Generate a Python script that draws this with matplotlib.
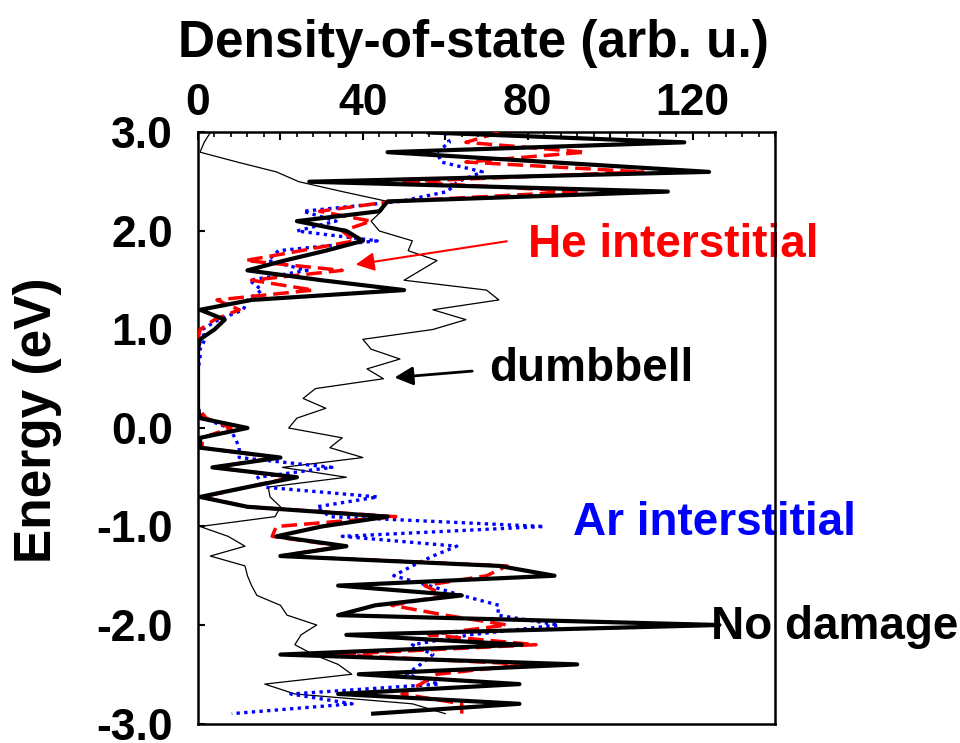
import matplotlib
matplotlib.use("Agg")
import matplotlib.pyplot as plt
from matplotlib.ticker import FixedLocator, FuncFormatter, MultipleLocator

plt.rcParams["font.family"] = ["Liberation Sans", "DejaVu Sans"]
plt.rcParams["font.weight"] = "bold"
plt.rcParams["axes.unicode_minus"] = False

# Energy grid (eV)
energy = [3.0, 2.9, 2.8, 2.7, 2.6, 2.5, 2.4, 2.3, 2.2, 2.1,
          2.0, 1.9, 1.8, 1.7, 1.6, 1.5, 1.4, 1.3, 1.2, 1.1,
          1.0, 0.9, 0.8, 0.7, 0.6, 0.5, 0.4, 0.3, 0.2, 0.1,
          0.0, -0.1, -0.2, -0.3, -0.4, -0.5, -0.6, -0.7, -0.8, -0.9,
          -1.0, -1.1, -1.2, -1.3, -1.4, -1.5, -1.6, -1.7, -1.8, -1.9,
          -2.0, -2.1, -2.2, -2.3, -2.4, -2.5, -2.6, -2.7, -2.8, -2.9]

# Density of states (arb. u.) for each configuration
dos_no_damage = [56, 118, 46, 85, 124, 27, 114, 46, 44, 24,
                 36, 40, 31, 21, 12, 30, 50, 13, 0.5, 6.5,
                 4, 0.5, 0, 0, 0, 0, 0, 0, 0, 0.5,
                 12, 0.5, 0.5, 20, 3.5, 24, 12, 0.5, 12, 46,
                 30, 19, 36, 20, 73, 86.5, 34, 64, 43, 34,
                 126.5, 36, 78.5, 20, 92, 39, 78, 34, 78, 42.5]

dos_he = [73, 65, 94, 65, 108, 49, 93, 47, 29.5, 42,
          35, 38, 25, 11.5, 35, 13, 28, 4.6, 10, 4,
          0.5, 0, 0, 0, 0, 0, 0, 0, 0, 2,
          8, 1, 1, 19, 4, 23, 12, 1, 12, 48,
          19, 18, 35, 20, 75, 70, 55, 60, 47, 60,
          75, 56, 82, 33, 80, 58, 54, 49.5, 64, 64]

dos_ar = [60, 61, 58, 59, 69, 63, 60.5, 49, 25.5, 33.5,
          24, 43.5, 19.5, 17, 26.5, 12.5, 15.5, 12, 11, 5,
          1, 1.7, 0.5, 0.5, 0, 0, 0, 0, 0, 1.2,
          7.5, 9, 10, 10, 32.5, 14.5, 16, 43.6, 28.8, 32,
          84, 35, 62.8, 57, 52, 47.5, 56, 64, 73, 72.7,
          87.5, 66, 52, 57, 54, 50.6, 58.5, 22.5, 37.4, 8.2]

dos_dumbbell = [3, 1.5, 0.5, 9.5, 19, 24.5, 35, 46, 44.5, 42,
                44, 52, 51, 58, 54, 50, 70, 73, 57, 65,
                57, 40, 42, 49, 41, 45, 28.5, 25.5, 31, 24,
                22, 35, 32, 40, 20.5, 36, 17, 17.5, 20, 18.7,
                0.5, 7.3, 11.4, 3, 11.4, 12, 13, 14.3, 20, 21.6,
                28.8, 25, 23.5, 28, 34, 37.3, 16.2, 23.5, 52, 60]

fig = plt.figure(figsize=(9.6, 7.43), dpi=100)
ax = fig.add_axes([0.20625, 0.02624, 0.60104, 0.79546])

ax.plot(dos_dumbbell, energy, color="black", lw=0.9, zorder=2)
ax.plot(dos_ar, energy, color="blue", lw=2.4, linestyle=(0, (1, 1.3)), zorder=3)
ax.plot(dos_he, energy, color="red", lw=2.5, linestyle=(0, (4.5, 2)), zorder=4)
ax.plot(dos_no_damage, energy, color="black", lw=3.0, zorder=5)

ax.set_xlim(0, 140)
ax.set_ylim(-3.0, 3.0)

# x axis along the top, inward ticks
ax.xaxis.tick_top()
ax.xaxis.set_label_position("top")
ax.xaxis.set_major_locator(FixedLocator([0, 20, 40, 60, 80, 100, 120]))
ax.xaxis.set_major_formatter(FuncFormatter(lambda v, p: f"{v:.0f}" if round(v) % 40 == 0 else ""))
ax.xaxis.set_minor_locator(MultipleLocator(4))
ax.yaxis.set_major_locator(MultipleLocator(1.0))
ax.yaxis.set_major_formatter(FuncFormatter(lambda v, p: f"{v:.1f}"))

ax.tick_params(axis="x", which="major", direction="in", length=6, width=1.5,
               top=True, bottom=False, labelsize=32, pad=6)
ax.tick_params(axis="x", which="minor", direction="in", length=3.5, width=1.2,
               top=True, bottom=False)
ax.tick_params(axis="y", which="major", direction="in", length=5, width=1.5,
               left=True, right=False, labelsize=32, pad=18)
for lab in ax.get_xticklabels() + ax.get_yticklabels():
    lab.set_fontweight("bold")

for s in ax.spines.values():
    s.set_linewidth(1.8)

ax.set_xlabel("Density-of-state (arb. u.)", fontsize=37, fontweight="bold")
ax.xaxis.set_label_coords(0.478, 1.128)
ax.set_ylabel("Energy (eV)", fontsize=37, fontweight="bold")
ax.yaxis.set_label_coords(-0.236, 0.5135)

# labels and pointers
ax.text(80, 1.736, "He interstitial", color="red", fontsize=33, fontweight="bold",
        ha="left", va="baseline", clip_on=False, zorder=1)
ax.annotate("", xy=(37.6, 1.655), xytext=(75.6, 1.9),
            arrowprops=dict(arrowstyle="-|>", color="red", lw=1.5, mutation_scale=28),
            zorder=6)
ax.text(70.6, 0.48, "dumbbell", color="black", fontsize=33, fontweight="bold",
        ha="left", va="baseline", clip_on=False, zorder=1)
ax.annotate("", xy=(47, 0.51), xytext=(67.2, 0.58),
            arrowprops=dict(arrowstyle="-|>", color="black", lw=2, mutation_scale=28),
            zorder=6)
ax.text(90.9, -1.086, "Ar interstitial", color="blue", fontsize=33, fontweight="bold",
        ha="left", va="baseline", clip_on=False, zorder=1)
ax.text(124.5, -2.145, "No damage", color="black", fontsize=33, fontweight="bold",
        ha="left", va="baseline", clip_on=False, zorder=1)

fig.savefig("out.png", dpi=100)
